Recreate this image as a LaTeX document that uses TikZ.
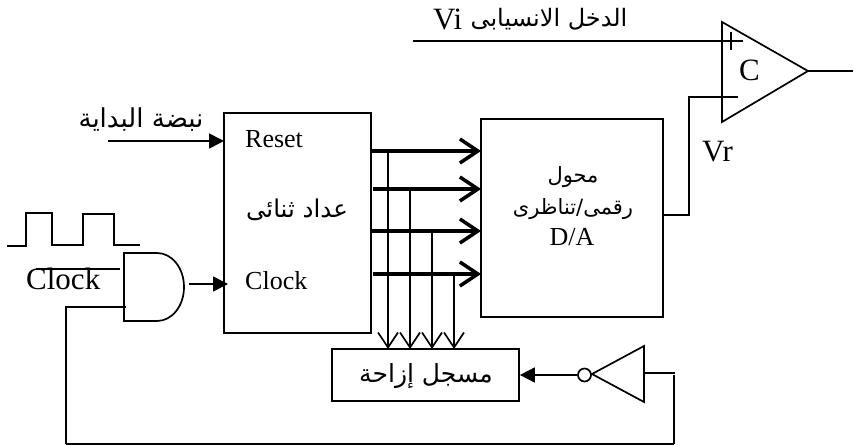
\documentclass[tikz,border=0pt]{standalone}
\usepackage{fontspec}
\setmainfont{Liberation Serif}
\newfontfamily\arabicfont[Script=Arabic]{DejaVu Sans}
\TeXXeTstate=1
\usetikzlibrary{arrows.meta}
\tikzset{
  wire/.style={line width=1.7pt},
  boxnode/.style={draw,line width=1.7pt,inner sep=0pt,fill=none},
  solidarrow/.style={wire,-{Triangle[length=15pt,width=15pt]}},
  busarrow/.style={line width=3.5pt,-{Straight Barb[length=18pt,width=24pt,line width=3.5pt]}},
  tap/.style={wire,-{Straight Barb[length=15pt,width=20pt,line width=1.7pt]}},
  lat/.style={anchor=base west,inner sep=0pt,font=\fontsize{26}{30}\selectfont},
  latbig/.style={anchor=base west,inner sep=0pt,font=\fontsize{31}{36}\selectfont},
  ara/.style={inner sep=0pt,font=\arabicfont}
}
\begin{document}
\begin{tikzpicture}[x=1pt,y=-1pt]
\useasboundingbox[fill=white] (0,0) rectangle (854,446);
% boxes
\node[boxnode,minimum width=147pt,minimum height=220pt] (counter) at (297.5,223) {};
\node[boxnode,minimum width=182pt,minimum height=198pt] (da) at (572,218) {};
\node[boxnode,minimum width=187pt,minimum height=52pt] (reg) at (425.5,375) {};
% coordinates
\coordinate (startin) at (108,141);
\coordinate (startend) at (224,141);
\coordinate (b1s) at (371,151); \coordinate (b1e) at (481,151);
\coordinate (b2s) at (373,189); \coordinate (b2e) at (481,189);
\coordinate (b3s) at (371,231); \coordinate (b3e) at (481,231);
\coordinate (b4s) at (373,274); \coordinate (b4e) at (481,274);
\coordinate (t1s) at (388,151); \coordinate (t1e) at (388,349);
\coordinate (t2s) at (410,189); \coordinate (t2e) at (410,349);
\coordinate (t3s) at (432,231); \coordinate (t3e) at (432,349);
\coordinate (t4s) at (454,274); \coordinate (t4e) at (454,349);
% start
\draw[solidarrow] (startin) -- (startend);
% pulse
\draw[wire] (7,246) -- (26,246) -- (26,213) -- (52,213) -- (52,245) -- (83,245) -- (83,214) -- (114,214) -- (114,245) -- (140,245);
% AND gate
\coordinate (andin1) at (120,269);
\coordinate (andin2) at (126,307);
\coordinate (andout) at (189,284);
\coordinate (clkin) at (228,284);
\draw[wire] (157,253) -- (124,253) -- (124,321) -- (157,321) .. controls (172,321) and (184,306) .. (184,287) .. controls (184,268) and (172,253) .. (157,253);
\draw[wire] (36,269) -- (andin1);
\draw[solidarrow] (andout) -- (clkin);
% bus
\draw[busarrow] (b1s) -- (b1e);
\draw[busarrow] (b2s) -- (b2e);
\draw[busarrow] (b3s) -- (b3e);
\draw[busarrow] (b4s) -- (b4e);
\draw[tap] (t1s) -- (t1e);
\draw[tap] (t2s) -- (t2e);
\draw[tap] (t3s) -- (t3e);
\draw[tap] (t4s) -- (t4e);
% comparator
\coordinate (cmpout) at (808,71);
\draw[wire] (722,22) -- (cmpout) -- (722,122) -- cycle;
\draw[wire] (cmpout) -- (853,71);
\draw[wire] (413,41) -- (743,41);
\draw[wire] (731,32) -- (731,50);
\coordinate (daout) at (663,215);
\draw[wire] (daout) -- (689,215) -- (689,97) -- (738,97);
% inverter
\coordinate (invapex) at (592,374);
\node[boxnode,circle,minimum size=13pt] (bubble) at (584.5,375) {};
\draw[wire] (invapex) -- (644,346) -- (644,402) -- cycle;
\draw[solidarrow] (bubble) -- (reg.east |- bubble);
\coordinate (invin) at (644,373);
\coordinate (fbr) at (674,444);
\coordinate (fbl) at (66,444);
\draw[wire] (invin) -- (675,373);
\draw[wire] (674,375) -- (fbr);
\draw[line width=2.5pt] (fbr) -- (fbl);
\draw[wire] (fbl) -- (66,307) -- (andin2);
% Latin text
\node[lat] (treset) at (245,148) {Reset};
\node[lat] (tclock) at (245,290) {Clock};
\node[latbig] (tclk) at (26,290) {Clock};
\node[latbig] (tvi) at (433,30) {Vi};
\node[latbig] (tc) at (739,81) {C};
\node[latbig] (tvr) at (702,162) {Vr};
\node[lat,anchor=base] (tda) at (572,246) {D/A};
% Arabic text
\node[ara] (tstart) at (141,120) {\fontsize{26}{30}\selectfont\beginR نبضة البداية\endR};
\node[ara] (tcnt) at (297,210) {\fontsize{24.5}{30}\selectfont\beginR عداد ثنائى\endR};
\node[ara] (tvia) at (549,19) {\fontsize{24}{30}\selectfont\beginR الدخل الانسيابى\endR};
\node[ara] (tm1) at (573,177) {\fontsize{21}{26}\selectfont\beginR محول\endR};
\node[ara] (tm2) at (573,209) {\fontsize{21}{26}\selectfont\beginR رقمى/تناظرى\endR};
\node[ara] (treg) at (426,376) {\fontsize{25}{30}\selectfont\beginR مسجل إزاحة\endR};
\end{tikzpicture}
\end{document}
